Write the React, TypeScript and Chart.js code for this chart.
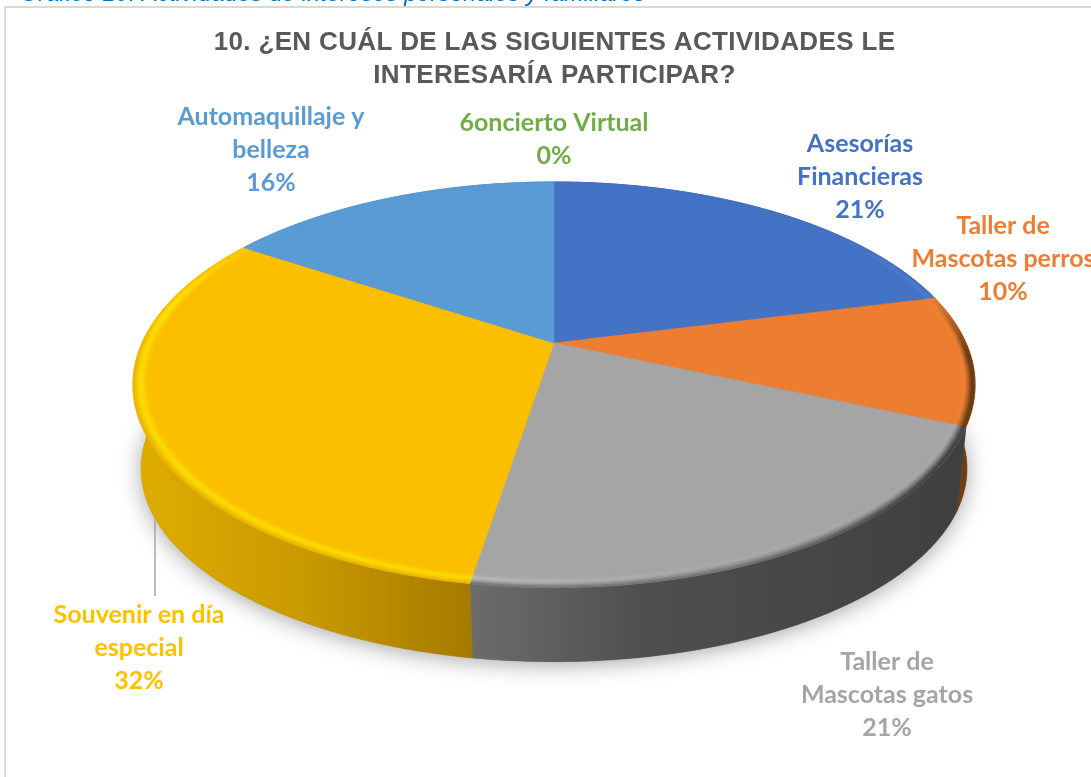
import React, { useEffect, useRef } from "react";
import { Chart, registerables } from "chart.js";

Chart.register(...registerables);

const categories = [
  "Asesorías Financieras",
  "Taller de Mascotas perros",
  "Taller de Mascotas gatos",
  "Souvenir en día especial",
  "Automaquillaje y belleza",
  "6oncierto Virtual",
];
const shares = [21.1, 10.4, 21.1, 31.6, 15.8, 0];
const labelLines = [
  ["Asesorías", "Financieras"],
  ["Taller de", "Mascotas perros"],
  ["Taller de", "Mascotas gatos"],
  ["Souvenir en día", "especial"],
  ["Automaquillaje y", "belleza"],
  ["6oncierto Virtual"],
];
const titleLines = ["10. ¿EN CUÁL DE LAS SIGUIENTES ACTIVIDADES LE", "INTERESARÍA PARTICIPAR?"];
const captionText = "Gráfico 10: Actividades de intereses personales y familiares";

const faceColors = ["#4472c4", "#ed7d31", "#a5a5a5", "#fbbf00", "#5b9bd5", "#70ad47"];
const textColors = ["#4472c4", "#ed7d31", "#a5a5a5", "#ffc000", "#5b9bd5", "#70ad47"];
const highlightColors = ["#6f9ae0", "#f59a50", "#c4c4c4", "#ffe400", "#8ab8e8", "#90c868"];
const shadeColors = ["#22406f", "#6b3b12", "#404040", "#dca800", "#2f5f8c", "#3f6a25"];
const wallStops = [
  [[0, "#2a4a80"], [1, "#22406f"]],
  [[0, "#7d4515"], [1, "#6b3b12"]],
  [[0, "#6c6c6c"], [0.35, "#4f4f4f"], [1, "#3f3f3f"]],
  [[0, "#dfad00"], [0.5, "#c99a00"], [1, "#a57a00"]],
  [[0, "#3a6fa0"], [1, "#2f5f8c"]],
  [[0, "#3f6a25"], [1, "#3f6a25"]],
];

// Where each data label sits (centre x, middle y of its first line).
const labelAnchors = [
  [860, 144],
  [1003, 226],
  [887, 662],
  [139, 615],
  [271, 117],
  [554, 123],
];

const topLayer = { cx: 554, cy: 343, R: 412, S: 194.2, k: 0.206 };
const bottomLayer = { cx: 554, cy: 431, R: 405, S: 185.7, k: 0.195 };
const bevelWidth = 0.042;

type Layer = typeof topLayer;

function project(layer: Layer, u: number, v: number): [number, number] {
  const w = 1 - layer.k * v;
  return [layer.cx + (layer.R * u) / w, layer.cy + (layer.S * v) / w];
}

function rgb(hex: string) {
  return [1, 3, 5].map((i) => parseInt(hex.slice(i, i + 2), 16));
}

function mix(a: number[], b: number[], t: number) {
  return a.map((c, i) => c + (b[i] - c) * t);
}

function css(c: number[]) {
  return `rgb(${c.map((x) => Math.round(x)).join(",")})`;
}

function arcPoints(layer: Layer, start: number, end: number, r = 1) {
  const pts: [number, number][] = [];
  const n = Math.max(2, Math.ceil(Math.abs(end - start) / 0.01));
  for (let i = 0; i <= n; i++) {
    const a = start + ((end - start) * i) / n;
    pts.push(project(layer, r * Math.cos(a), r * Math.sin(a)));
  }
  return pts;
}

function tracePoints(ctx: CanvasRenderingContext2D, pts: [number, number][], move = true) {
  pts.forEach(([x, y], i) => {
    if (i === 0 && move) ctx.moveTo(x, y);
    else ctx.lineTo(x, y);
  });
}

const pie3dPlugin = {
  id: "pie3d",
  beforeDraw(chart: any) {
    const ctx: any = chart.ctx;
    ctx.save();
    ctx.fillStyle = "#ffffff";
    ctx.fillRect(0, 0, chart.width, chart.height);
    ctx.strokeStyle = "#d9d9d9";
    ctx.lineWidth = 2;
    ctx.beginPath();
    ctx.moveTo(5, chart.height);
    ctx.lineTo(5, 7);
    ctx.lineTo(chart.width, 7);
    ctx.stroke();
    ctx.font = "italic 23.6px 'Liberation Sans'";
    ctx.fillStyle = "#0070c0";
    ctx.textAlign = "left";
    ctx.textBaseline = "alphabetic";
    ctx.fillText(captionText, 20, 1);
    ctx.restore();
    // the title that the library draws next is slightly tracked
    ctx.letterSpacing = "0.35px";
  },
  beforeDatasetDraw(chart: any) {
    const ctx: any = chart.ctx;
    ctx.letterSpacing = "0px";
    const arcs = chart.getDatasetMeta(0).data;
    const visible = arcs
      .map((arc: any, i: number) => ({ i, start: arc.startAngle, end: arc.endAngle }))
      .filter((s: any) => s.end - s.start > 1e-6);

    ctx.save();

    // soft shadow under the disc
    ctx.save();
    ctx.shadowColor = "rgba(0,0,0,0.35)";
    ctx.shadowBlur = 22;
    ctx.shadowOffsetY = 3;
    ctx.fillStyle = "#808080";
    ctx.beginPath();
    tracePoints(ctx, arcPoints(bottomLayer, 0, Math.PI * 2));
    ctx.closePath();
    ctx.fill();
    ctx.restore();

    // side walls
    visible.forEach((s: any) => {
      const top = arcPoints(topLayer, s.start, s.end);
      const bottom = arcPoints(bottomLayer, s.start, s.end).reverse();
      const xs = top.concat(bottom).map((p) => p[0]);
      const g = ctx.createLinearGradient(Math.min(...xs), 0, Math.max(...xs), 0);
      wallStops[s.i].forEach(([o, c]: any) => g.addColorStop(o, c));
      ctx.fillStyle = g;
      ctx.strokeStyle = g;
      ctx.lineWidth = 0.6;
      ctx.beginPath();
      tracePoints(ctx, top);
      tracePoints(ctx, bottom, false);
      ctx.closePath();
      ctx.fill();
      ctx.stroke();
    });

    // top faces
    visible.forEach((s: any) => {
      ctx.fillStyle = faceColors[s.i];
      ctx.strokeStyle = faceColors[s.i];
      ctx.lineWidth = 0.6;
      ctx.beginPath();
      ctx.moveTo(topLayer.cx, topLayer.cy);
      tracePoints(ctx, arcPoints(topLayer, s.start, s.end), false);
      ctx.closePath();
      ctx.fill();
      ctx.stroke();
    });

    // bevelled rim, lit from the front left
    const rings = 12;
    const lightDir = (150 * Math.PI) / 180;
    visible.forEach((s: any) => {
      const base = rgb(faceColors[s.i]);
      const hi = rgb(highlightColors[s.i]);
      const shade = rgb(shadeColors[s.i]);
      const steps = Math.max(2, Math.ceil((s.end - s.start) / 0.02));
      for (let j = 0; j < steps; j++) {
        const a0 = s.start + ((s.end - s.start) * j) / steps;
        const a1 = s.start + ((s.end - s.start) * (j + 1)) / steps;
        const mid = (a0 + a1) / 2;
        const lit = Math.cos(mid - lightDir);
        const front = Math.max(0, Math.min(1, (Math.sin(mid) + 0.7) / 0.5));
        for (let q = 0; q < rings; q++) {
          const t = (q + 0.5) / rings;
          const r0 = 1 - (bevelWidth * q) / rings;
          const r1 = 1 - (bevelWidth * (q + 1)) / rings;
          const bump = Math.exp(-Math.pow((t - 0.38) / 0.26, 2));
          let c = mix(base, hi, bump * Math.max(0.3, Math.min(1, lit * 1.6)) * front);
          const dark = Math.max(0, 0.15 - lit) / 1.15;
          const edge = Math.pow(Math.max(0, 1 - t * 1.7), 1.2);
          const backFade = Math.max(0, Math.min(1, (Math.sin(mid) + 0.25) / 0.3));
          c = mix(c, shade, Math.min(1, edge * (0.6 + dark * 1.4)) * backFade);
          const p = [
            project(topLayer, r0 * Math.cos(a0), r0 * Math.sin(a0)),
            project(topLayer, r0 * Math.cos(a1), r0 * Math.sin(a1)),
            project(topLayer, r1 * Math.cos(a1), r1 * Math.sin(a1)),
            project(topLayer, r1 * Math.cos(a0), r1 * Math.sin(a0)),
          ] as [number, number][];
          ctx.fillStyle = css(c);
          ctx.strokeStyle = ctx.fillStyle;
          ctx.lineWidth = 0.5;
          ctx.beginPath();
          tracePoints(ctx, p);
          ctx.closePath();
          ctx.fill();
          ctx.stroke();
        }
      }
    });

    ctx.restore();
    return false;
  },
  afterDatasetsDraw(chart: any) {
    const ctx: any = chart.ctx;
    const values: number[] = chart.data.datasets[0].data;
    const total = values.reduce((a, b) => a + b, 0);
    ctx.save();
    ctx.letterSpacing = "0px";

    // leader line of the largest slice
    ctx.strokeStyle = "#a6a6a6";
    ctx.lineWidth = 1.5;
    ctx.beginPath();
    ctx.moveTo(155, 516);
    ctx.lineTo(155, 596);
    ctx.stroke();

    ctx.font = "bold 25px Lato";
    ctx.textAlign = "center";
    ctx.textBaseline = "middle";
    values.forEach((v, i) => {
      const [x, y] = labelAnchors[i];
      const lines = [...labelLines[i], `${Math.round((v / total) * 100)}%`];
      ctx.fillStyle = textColors[i];
      lines.forEach((line, n) => ctx.fillText(line, x, y + n * 33));
    });
    ctx.restore();
  },
};

export default function App() {
  const ref = useRef<HTMLCanvasElement>(null);
  useEffect(() => {
    const chart = new Chart(ref.current as HTMLCanvasElement, {
      type: "pie",
      data: {
        labels: categories,
        datasets: [{ data: shares, backgroundColor: faceColors, borderWidth: 0 }],
      },
      plugins: [pie3dPlugin],
      options: {
        animation: false,
        responsive: false,
        layout: { padding: { left: 18 } },
        plugins: {
          legend: { display: false },
          tooltip: { enabled: false },
          title: {
            display: true,
            text: titleLines,
            color: "#595959",
            font: { family: "'Liberation Sans'", size: 26, weight: "bold", lineHeight: 1.25 },
            padding: { top: 27, bottom: 8 },
          },
        },
      },
    } as any);
    return () => chart.destroy();
  }, []);
  return (
    <div style={{ position: "absolute", left: 0, top: 0, width: 1091, height: 777, overflow: "hidden" }}>
      <canvas ref={ref} width={1091} height={777} style={{ display: "block" }} />
    </div>
  );
}
